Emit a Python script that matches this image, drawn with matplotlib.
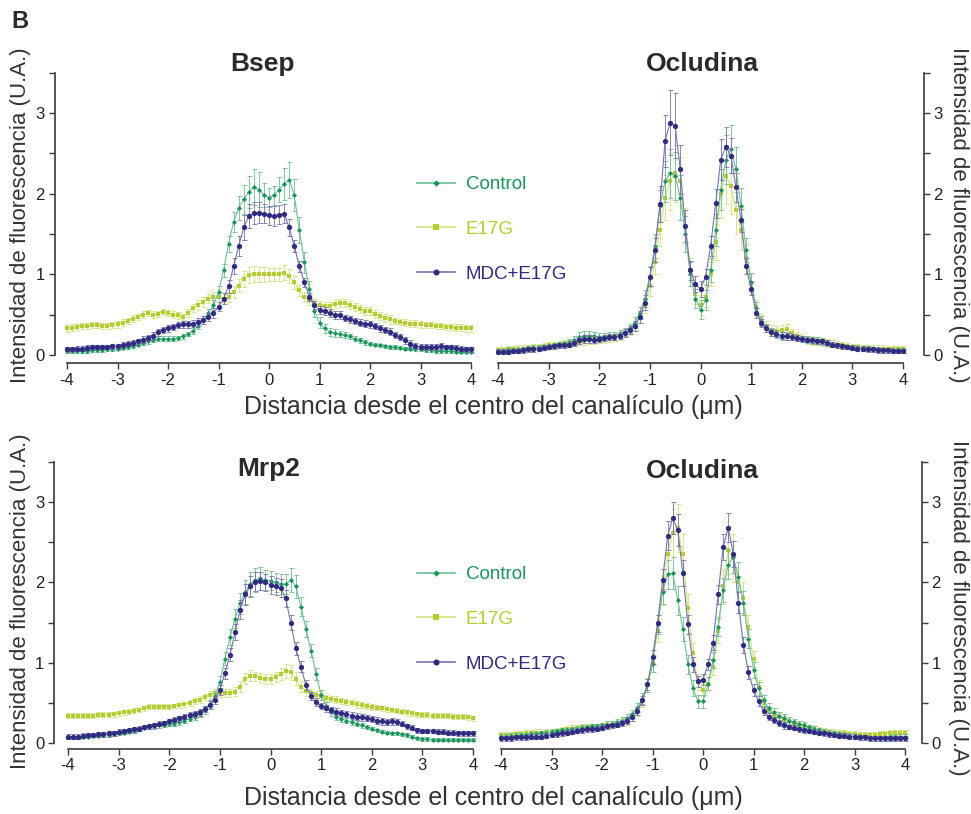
import numpy as np
import matplotlib
matplotlib.use("Agg")
import matplotlib.pyplot as plt
from matplotlib.lines import Line2D

plt.rcParams['font.family'] = ['Liberation Sans', 'DejaVu Sans']
plt.rcParams['axes.unicode_minus'] = False

# distance from canaliculus centre (um), step 0.1
dist = np.linspace(-4, 4, 81)

series_names = ["Control", "E17G", "MDC+E17G"]
colors = ["#17955b", "#b3ce2e", "#2f2b80"]
light = ["#6cbf93", "#d2e37f", "#7672b0"]
markers = ["D", "s", "o"]
msizes = [2.6, 3.4, 3.8]

# ---- Bsep ----
bsep_ctrl = [0.05, 0.05, 0.05, 0.05, 0.05, 0.06, 0.06, 0.06, 0.07, 0.07, 0.08,
             0.09, 0.10, 0.11, 0.13, 0.15, 0.17, 0.19, 0.20, 0.20, 0.20,
             0.20, 0.21, 0.23, 0.26, 0.30, 0.36, 0.43, 0.52, 0.62, 0.78,
             1.05, 1.38, 1.65, 1.82, 1.93, 2.02, 2.08, 2.05, 1.98, 1.95,
             1.98, 2.05, 2.12, 2.17, 1.98, 1.55, 1.15, 0.82, 0.55, 0.40,
             0.33, 0.29, 0.27, 0.26, 0.25, 0.23, 0.20, 0.18, 0.16, 0.14,
             0.13, 0.12, 0.11, 0.10, 0.10, 0.09, 0.08, 0.08, 0.07, 0.07,
             0.06, 0.06, 0.05, 0.05, 0.05, 0.05, 0.04, 0.04, 0.04, 0.04]
bsep_ctrl_err = [0.02, 0.02, 0.02, 0.02, 0.02, 0.02, 0.02, 0.02, 0.02, 0.02, 0.02,
                 0.02, 0.02, 0.02, 0.02, 0.03, 0.03, 0.03, 0.03, 0.03, 0.03,
                 0.03, 0.03, 0.03, 0.03, 0.04, 0.04, 0.05, 0.05, 0.06, 0.07,
                 0.08, 0.10, 0.12, 0.15, 0.18, 0.20, 0.22, 0.22, 0.15, 0.12,
                 0.12, 0.15, 0.20, 0.22, 0.20, 0.16, 0.13, 0.10, 0.08, 0.07,
                 0.06, 0.05, 0.05, 0.04, 0.04, 0.03, 0.03, 0.03, 0.03, 0.02,
                 0.02, 0.02, 0.02, 0.02, 0.02, 0.02, 0.02, 0.02, 0.02, 0.02,
                 0.02, 0.02, 0.02, 0.02, 0.02, 0.02, 0.02, 0.02, 0.02, 0.02]
bsep_e17g = [0.33, 0.34, 0.35, 0.36, 0.36, 0.37, 0.37, 0.36, 0.36, 0.37, 0.38,
             0.40, 0.42, 0.45, 0.47, 0.50, 0.52, 0.50, 0.51, 0.53, 0.52,
             0.50, 0.49, 0.47, 0.52, 0.58, 0.62, 0.66, 0.70, 0.72, 0.72,
             0.70, 0.72, 0.78, 0.86, 0.94, 0.99, 1.00, 1.00, 1.00, 1.00,
             1.00, 1.00, 1.02, 0.98, 0.90, 0.80, 0.72, 0.68, 0.64, 0.62,
             0.61, 0.61, 0.63, 0.65, 0.64, 0.62, 0.59, 0.57, 0.55, 0.54,
             0.51, 0.48, 0.46, 0.44, 0.42, 0.41, 0.40, 0.39, 0.39, 0.38,
             0.37, 0.37, 0.36, 0.36, 0.35, 0.35, 0.34, 0.34, 0.33, 0.33]
bsep_e17g_err = [0.04, 0.04, 0.04, 0.04, 0.04, 0.04, 0.04, 0.04, 0.04, 0.04, 0.04,
                 0.04, 0.04, 0.04, 0.04, 0.04, 0.04, 0.04, 0.04, 0.04, 0.04,
                 0.04, 0.04, 0.04, 0.05, 0.05, 0.06, 0.06, 0.06, 0.06, 0.06,
                 0.06, 0.06, 0.07, 0.08, 0.10, 0.10, 0.10, 0.09, 0.09, 0.08,
                 0.08, 0.08, 0.09, 0.09, 0.08, 0.07, 0.06, 0.06, 0.05, 0.05,
                 0.05, 0.05, 0.05, 0.05, 0.05, 0.05, 0.05, 0.05, 0.05, 0.05,
                 0.05, 0.05, 0.05, 0.05, 0.04, 0.04, 0.04, 0.04, 0.04, 0.04,
                 0.04, 0.04, 0.04, 0.04, 0.04, 0.04, 0.04, 0.04, 0.04, 0.04]
bsep_mdc = [0.07, 0.07, 0.08, 0.08, 0.09, 0.10, 0.10, 0.10, 0.10, 0.11, 0.11,
            0.13, 0.14, 0.15, 0.17, 0.19, 0.21, 0.24, 0.28, 0.31, 0.33,
            0.35, 0.37, 0.38, 0.38, 0.39, 0.41, 0.43, 0.47, 0.52, 0.60,
            0.70, 0.85, 1.10, 1.35, 1.58, 1.72, 1.76, 1.76, 1.75, 1.73,
            1.72, 1.74, 1.75, 1.58, 1.35, 1.10, 0.90, 0.72, 0.62, 0.56,
            0.54, 0.52, 0.50, 0.49, 0.46, 0.44, 0.42, 0.40, 0.39, 0.38,
            0.36, 0.33, 0.31, 0.29, 0.25, 0.22, 0.18, 0.14, 0.11, 0.10,
            0.10, 0.10, 0.10, 0.11, 0.10, 0.10, 0.09, 0.08, 0.07, 0.07]
bsep_mdc_err = [0.03, 0.03, 0.03, 0.03, 0.03, 0.03, 0.03, 0.03, 0.03, 0.03, 0.03,
                0.03, 0.03, 0.03, 0.03, 0.04, 0.04, 0.04, 0.04, 0.04, 0.04,
                0.04, 0.04, 0.04, 0.04, 0.04, 0.05, 0.05, 0.05, 0.06, 0.06,
                0.07, 0.08, 0.10, 0.12, 0.15, 0.15, 0.14, 0.13, 0.12, 0.12,
                0.12, 0.12, 0.12, 0.10, 0.08, 0.07, 0.06, 0.05, 0.05, 0.05,
                0.05, 0.05, 0.05, 0.05, 0.04, 0.04, 0.04, 0.04, 0.04, 0.04,
                0.04, 0.04, 0.04, 0.04, 0.04, 0.04, 0.04, 0.04, 0.04, 0.04,
                0.04, 0.04, 0.04, 0.04, 0.03, 0.03, 0.03, 0.03, 0.03, 0.03]

# ---- Ocludina (top) ----
ocl1_ctrl = [0.05, 0.05, 0.06, 0.06, 0.06, 0.07, 0.08, 0.09, 0.09, 0.10, 0.11,
             0.12, 0.13, 0.14, 0.16, 0.18, 0.22, 0.24, 0.24, 0.23, 0.22,
             0.22, 0.23, 0.24, 0.26, 0.29, 0.33, 0.40, 0.52, 0.70, 0.98,
             1.35, 1.85, 2.15, 2.25, 2.22, 1.95, 1.50, 1.00, 0.70, 0.56,
             0.68, 1.05, 1.55, 2.05, 2.42, 2.55, 2.30, 1.85, 1.30, 0.90,
             0.58, 0.42, 0.33, 0.28, 0.26, 0.24, 0.23, 0.22, 0.21, 0.20,
             0.19, 0.18, 0.18, 0.17, 0.15, 0.13, 0.12, 0.11, 0.10, 0.09,
             0.09, 0.08, 0.08, 0.07, 0.07, 0.06, 0.06, 0.06, 0.06, 0.06]
ocl1_ctrl_err = [0.03, 0.03, 0.03, 0.03, 0.03, 0.03, 0.03, 0.03, 0.03, 0.03, 0.03,
                 0.03, 0.03, 0.03, 0.04, 0.05, 0.06, 0.06, 0.06, 0.05, 0.05,
                 0.05, 0.05, 0.05, 0.05, 0.05, 0.06, 0.07, 0.08, 0.10, 0.12,
                 0.15, 0.20, 0.25, 0.30, 0.30, 0.28, 0.22, 0.15, 0.12, 0.12,
                 0.12, 0.15, 0.20, 0.25, 0.30, 0.30, 0.28, 0.22, 0.15, 0.12,
                 0.08, 0.06, 0.05, 0.05, 0.05, 0.05, 0.05, 0.04, 0.04, 0.04,
                 0.04, 0.04, 0.04, 0.04, 0.04, 0.03, 0.03, 0.03, 0.03, 0.03,
                 0.03, 0.03, 0.03, 0.03, 0.03, 0.03, 0.03, 0.03, 0.03, 0.03]
ocl1_e17g = [0.06, 0.06, 0.07, 0.07, 0.08, 0.08, 0.09, 0.10, 0.10, 0.11, 0.12,
             0.12, 0.13, 0.14, 0.14, 0.15, 0.16, 0.17, 0.18, 0.18, 0.19,
             0.20, 0.21, 0.22, 0.24, 0.27, 0.31, 0.38, 0.48, 0.62, 0.85,
             1.15, 1.55, 1.95, 2.15, 2.25, 2.15, 1.60, 1.05, 0.75, 0.62,
             0.72, 1.00, 1.40, 2.00, 2.22, 2.10, 1.80, 1.55, 1.20, 0.88,
             0.60, 0.44, 0.36, 0.31, 0.30, 0.31, 0.32, 0.27, 0.23, 0.21,
             0.19, 0.18, 0.17, 0.16, 0.15, 0.14, 0.13, 0.12, 0.11, 0.10,
             0.10, 0.09, 0.09, 0.08, 0.08, 0.08, 0.07, 0.07, 0.07, 0.07]
ocl1_e17g_err = [0.04, 0.04, 0.04, 0.04, 0.04, 0.04, 0.04, 0.04, 0.04, 0.04, 0.04,
                 0.04, 0.04, 0.04, 0.04, 0.04, 0.04, 0.04, 0.04, 0.04, 0.04,
                 0.05, 0.05, 0.05, 0.05, 0.05, 0.06, 0.07, 0.08, 0.10, 0.12,
                 0.15, 0.20, 0.28, 0.35, 0.35, 0.30, 0.22, 0.15, 0.12, 0.12,
                 0.12, 0.15, 0.22, 0.30, 0.35, 0.35, 0.30, 0.25, 0.18, 0.12,
                 0.08, 0.07, 0.06, 0.06, 0.06, 0.06, 0.06, 0.05, 0.05, 0.05,
                 0.05, 0.05, 0.05, 0.05, 0.05, 0.04, 0.04, 0.04, 0.04, 0.04,
                 0.04, 0.04, 0.04, 0.04, 0.04, 0.04, 0.04, 0.04, 0.04, 0.04]
ocl1_mdc = [0.04, 0.04, 0.04, 0.05, 0.05, 0.06, 0.07, 0.07, 0.08, 0.09, 0.10,
            0.11, 0.12, 0.12, 0.13, 0.15, 0.18, 0.20, 0.20, 0.19, 0.20,
            0.21, 0.22, 0.22, 0.24, 0.27, 0.31, 0.36, 0.47, 0.65, 0.97,
            1.30, 1.87, 2.65, 2.88, 2.84, 2.30, 1.60, 1.05, 0.88, 0.82,
            0.97, 1.35, 1.88, 2.42, 2.58, 2.47, 2.08, 1.67, 1.10, 0.82,
            0.52, 0.40, 0.33, 0.28, 0.26, 0.24, 0.23, 0.22, 0.21, 0.20,
            0.19, 0.18, 0.17, 0.17, 0.15, 0.13, 0.12, 0.11, 0.10, 0.09,
            0.08, 0.08, 0.07, 0.07, 0.06, 0.06, 0.06, 0.05, 0.05, 0.05]
ocl1_mdc_err = [0.03, 0.03, 0.03, 0.03, 0.03, 0.03, 0.03, 0.03, 0.03, 0.03, 0.03,
                0.03, 0.03, 0.03, 0.03, 0.04, 0.04, 0.05, 0.05, 0.04, 0.04,
                0.04, 0.04, 0.04, 0.04, 0.05, 0.05, 0.06, 0.07, 0.09, 0.12,
                0.15, 0.22, 0.32, 0.40, 0.40, 0.30, 0.20, 0.12, 0.10, 0.10,
                0.10, 0.12, 0.18, 0.25, 0.25, 0.22, 0.18, 0.14, 0.10, 0.08,
                0.06, 0.05, 0.04, 0.04, 0.04, 0.04, 0.04, 0.04, 0.04, 0.04,
                0.03, 0.03, 0.03, 0.03, 0.03, 0.03, 0.03, 0.03, 0.03, 0.03,
                0.03, 0.03, 0.03, 0.03, 0.03, 0.03, 0.03, 0.03, 0.03, 0.03]

# ---- Mrp2 ----
mrp2_ctrl = [0.07, 0.07, 0.07, 0.08, 0.08, 0.09, 0.09, 0.10, 0.10, 0.11, 0.12,
             0.13, 0.14, 0.15, 0.17, 0.19, 0.20, 0.21, 0.22, 0.23, 0.24,
             0.24, 0.26, 0.28, 0.30, 0.33, 0.36, 0.41, 0.48, 0.58, 0.76,
             1.05, 1.32, 1.55, 1.74, 1.88, 1.98, 2.03, 2.05, 2.03, 2.02,
             2.00, 1.98, 1.98, 2.03, 1.95, 1.70, 1.42, 1.15, 0.86, 0.60,
             0.46, 0.39, 0.33, 0.30, 0.28, 0.26, 0.24, 0.22, 0.20, 0.18,
             0.16, 0.14, 0.13, 0.12, 0.12, 0.11, 0.10, 0.08, 0.06, 0.05,
             0.05, 0.04, 0.04, 0.04, 0.04, 0.04, 0.04, 0.04, 0.04, 0.04]
mrp2_ctrl_err = [0.02, 0.02, 0.02, 0.02, 0.02, 0.02, 0.02, 0.02, 0.02, 0.02, 0.02,
                 0.02, 0.02, 0.02, 0.02, 0.02, 0.03, 0.03, 0.03, 0.03, 0.03,
                 0.03, 0.03, 0.03, 0.03, 0.04, 0.04, 0.05, 0.05, 0.06, 0.07,
                 0.08, 0.10, 0.12, 0.13, 0.15, 0.15, 0.15, 0.14, 0.13, 0.12,
                 0.12, 0.12, 0.13, 0.15, 0.14, 0.12, 0.10, 0.08, 0.07, 0.06,
                 0.05, 0.05, 0.04, 0.04, 0.03, 0.03, 0.03, 0.03, 0.02, 0.02,
                 0.02, 0.02, 0.02, 0.02, 0.02, 0.02, 0.02, 0.02, 0.02, 0.02,
                 0.02, 0.02, 0.02, 0.02, 0.02, 0.02, 0.02, 0.02, 0.02, 0.02]
mrp2_e17g = [0.34, 0.34, 0.34, 0.34, 0.34, 0.34, 0.35, 0.35, 0.35, 0.36, 0.37,
             0.38, 0.39, 0.40, 0.41, 0.43, 0.45, 0.45, 0.45, 0.45, 0.45,
             0.46, 0.47, 0.48, 0.50, 0.52, 0.54, 0.57, 0.60, 0.62, 0.62,
             0.62, 0.62, 0.64, 0.70, 0.80, 0.84, 0.83, 0.81, 0.80, 0.80,
             0.82, 0.86, 0.90, 0.88, 0.80, 0.70, 0.65, 0.62, 0.60, 0.58,
             0.56, 0.55, 0.54, 0.52, 0.51, 0.50, 0.48, 0.47, 0.46, 0.45,
             0.44, 0.43, 0.42, 0.41, 0.40, 0.39, 0.38, 0.37, 0.36, 0.35,
             0.35, 0.34, 0.34, 0.34, 0.34, 0.33, 0.33, 0.33, 0.32, 0.31]
mrp2_e17g_err = [0.03, 0.03, 0.03, 0.03, 0.03, 0.03, 0.03, 0.03, 0.03, 0.03, 0.03,
                 0.03, 0.03, 0.03, 0.03, 0.03, 0.03, 0.03, 0.03, 0.03, 0.03,
                 0.03, 0.03, 0.03, 0.04, 0.04, 0.04, 0.04, 0.05, 0.05, 0.05,
                 0.05, 0.05, 0.06, 0.07, 0.07, 0.07, 0.06, 0.06, 0.06, 0.06,
                 0.06, 0.07, 0.09, 0.09, 0.08, 0.07, 0.06, 0.05, 0.05, 0.04,
                 0.04, 0.04, 0.04, 0.04, 0.04, 0.04, 0.04, 0.04, 0.04, 0.04,
                 0.03, 0.03, 0.03, 0.03, 0.03, 0.03, 0.03, 0.03, 0.03, 0.03,
                 0.03, 0.03, 0.03, 0.03, 0.03, 0.03, 0.03, 0.03, 0.03, 0.03]
mrp2_mdc = [0.08, 0.08, 0.08, 0.09, 0.10, 0.10, 0.11, 0.11, 0.12, 0.12, 0.14,
            0.15, 0.16, 0.17, 0.18, 0.20, 0.21, 0.22, 0.24, 0.25, 0.27,
            0.29, 0.31, 0.33, 0.35, 0.36, 0.38, 0.42, 0.47, 0.54, 0.66,
            0.87, 1.10, 1.38, 1.66, 1.85, 1.95, 2.01, 2.02, 2.00, 1.97,
            1.95, 1.93, 1.80, 1.50, 1.18, 0.95, 0.72, 0.58, 0.51, 0.46,
            0.43, 0.41, 0.39, 0.37, 0.36, 0.34, 0.33, 0.32, 0.31, 0.30,
            0.28, 0.27, 0.26, 0.27, 0.26, 0.24, 0.21, 0.19, 0.16, 0.15,
            0.15, 0.15, 0.14, 0.14, 0.13, 0.13, 0.12, 0.12, 0.12, 0.12]
mrp2_mdc_err = [0.03, 0.03, 0.03, 0.03, 0.03, 0.03, 0.03, 0.03, 0.03, 0.03, 0.03,
                0.03, 0.03, 0.03, 0.03, 0.03, 0.03, 0.03, 0.03, 0.03, 0.03,
                0.03, 0.03, 0.03, 0.03, 0.04, 0.04, 0.04, 0.05, 0.05, 0.06,
                0.07, 0.08, 0.10, 0.12, 0.13, 0.13, 0.12, 0.11, 0.11, 0.11,
                0.11, 0.11, 0.10, 0.09, 0.08, 0.07, 0.06, 0.05, 0.05, 0.04,
                0.04, 0.04, 0.04, 0.04, 0.04, 0.04, 0.04, 0.04, 0.04, 0.04,
                0.04, 0.04, 0.04, 0.04, 0.04, 0.03, 0.03, 0.03, 0.03, 0.03,
                0.03, 0.03, 0.03, 0.03, 0.03, 0.03, 0.03, 0.03, 0.03, 0.03]

# ---- Ocludina (bottom) ----
ocl2_ctrl = [0.08, 0.08, 0.09, 0.09, 0.10, 0.10, 0.11, 0.11, 0.12, 0.13, 0.14,
             0.15, 0.16, 0.16, 0.17, 0.18, 0.19, 0.20, 0.21, 0.21, 0.22,
             0.23, 0.24, 0.26, 0.28, 0.31, 0.36, 0.44, 0.55, 0.72, 0.98,
             1.48, 1.88, 2.10, 2.12, 1.78, 1.42, 0.98, 0.68, 0.52, 0.52,
             0.74, 1.03, 1.45, 1.91, 2.22, 2.32, 2.07, 1.74, 1.30, 0.91,
             0.68, 0.53, 0.44, 0.38, 0.34, 0.31, 0.28, 0.26, 0.24, 0.22,
             0.20, 0.18, 0.16, 0.14, 0.13, 0.12, 0.11, 0.10, 0.09, 0.08,
             0.07, 0.07, 0.06, 0.06, 0.06, 0.06, 0.07, 0.07, 0.08, 0.08]
ocl2_ctrl_err = [0.03, 0.03, 0.03, 0.03, 0.03, 0.03, 0.03, 0.03, 0.03, 0.03, 0.03,
                 0.03, 0.03, 0.03, 0.03, 0.03, 0.03, 0.03, 0.03, 0.03, 0.03,
                 0.04, 0.04, 0.04, 0.04, 0.05, 0.05, 0.06, 0.07, 0.08, 0.10,
                 0.12, 0.15, 0.18, 0.20, 0.18, 0.15, 0.12, 0.10, 0.08, 0.08,
                 0.08, 0.10, 0.12, 0.15, 0.18, 0.20, 0.18, 0.15, 0.12, 0.10,
                 0.08, 0.07, 0.06, 0.05, 0.05, 0.05, 0.04, 0.04, 0.04, 0.04,
                 0.03, 0.03, 0.03, 0.03, 0.03, 0.03, 0.03, 0.03, 0.03, 0.03,
                 0.03, 0.03, 0.03, 0.03, 0.03, 0.03, 0.03, 0.03, 0.03, 0.03]
ocl2_e17g = [0.10, 0.10, 0.10, 0.11, 0.11, 0.12, 0.12, 0.13, 0.13, 0.13, 0.14,
             0.15, 0.16, 0.17, 0.18, 0.19, 0.20, 0.20, 0.20, 0.20, 0.21,
             0.22, 0.23, 0.24, 0.26, 0.28, 0.32, 0.40, 0.52, 0.72, 1.00,
             1.40, 1.90, 2.35, 2.62, 2.68, 2.35, 1.68, 1.12, 0.76, 0.66,
             0.74, 0.95, 1.40, 1.95, 2.40, 2.30, 2.00, 1.80, 1.45, 1.05,
             0.70, 0.50, 0.40, 0.35, 0.32, 0.29, 0.27, 0.25, 0.23, 0.21,
             0.19, 0.17, 0.16, 0.15, 0.14, 0.13, 0.12, 0.12, 0.11, 0.11,
             0.10, 0.10, 0.10, 0.10, 0.11, 0.11, 0.12, 0.12, 0.12, 0.12]
ocl2_e17g_err = [0.04, 0.04, 0.04, 0.04, 0.04, 0.04, 0.04, 0.04, 0.04, 0.04, 0.04,
                 0.04, 0.04, 0.04, 0.04, 0.04, 0.04, 0.04, 0.04, 0.04, 0.04,
                 0.04, 0.04, 0.04, 0.05, 0.05, 0.05, 0.06, 0.07, 0.09, 0.11,
                 0.14, 0.18, 0.24, 0.30, 0.30, 0.25, 0.18, 0.12, 0.10, 0.08,
                 0.08, 0.10, 0.15, 0.22, 0.30, 0.30, 0.25, 0.20, 0.15, 0.10,
                 0.08, 0.06, 0.05, 0.05, 0.05, 0.05, 0.05, 0.04, 0.04, 0.04,
                 0.04, 0.04, 0.04, 0.04, 0.04, 0.04, 0.04, 0.04, 0.04, 0.04,
                 0.04, 0.04, 0.04, 0.04, 0.04, 0.04, 0.04, 0.04, 0.04, 0.04]
ocl2_mdc = [0.06, 0.06, 0.06, 0.07, 0.07, 0.07, 0.08, 0.08, 0.08, 0.09, 0.10,
            0.11, 0.12, 0.13, 0.14, 0.15, 0.16, 0.17, 0.17, 0.18, 0.19,
            0.21, 0.22, 0.23, 0.25, 0.28, 0.32, 0.40, 0.53, 0.73, 1.07,
            1.49, 2.03, 2.58, 2.80, 2.65, 2.12, 1.48, 0.98, 0.77, 0.79,
            0.98, 1.25, 1.85, 2.44, 2.68, 2.35, 1.75, 1.22, 0.88, 0.66,
            0.52, 0.40, 0.33, 0.29, 0.25, 0.22, 0.20, 0.19, 0.17, 0.16,
            0.15, 0.14, 0.13, 0.12, 0.11, 0.10, 0.09, 0.09, 0.08, 0.08,
            0.07, 0.07, 0.06, 0.06, 0.06, 0.06, 0.06, 0.06, 0.06, 0.06]
ocl2_mdc_err = [0.03, 0.03, 0.03, 0.03, 0.03, 0.03, 0.03, 0.03, 0.03, 0.03, 0.03,
                0.03, 0.03, 0.03, 0.03, 0.03, 0.03, 0.03, 0.03, 0.03, 0.03,
                0.03, 0.03, 0.03, 0.04, 0.04, 0.05, 0.05, 0.06, 0.07, 0.09,
                0.11, 0.14, 0.18, 0.20, 0.20, 0.16, 0.12, 0.09, 0.07, 0.07,
                0.07, 0.09, 0.12, 0.16, 0.18, 0.16, 0.13, 0.10, 0.08, 0.07,
                0.06, 0.05, 0.04, 0.04, 0.04, 0.04, 0.03, 0.03, 0.03, 0.03,
                0.03, 0.03, 0.03, 0.03, 0.03, 0.03, 0.03, 0.03, 0.03, 0.03,
                0.03, 0.03, 0.03, 0.03, 0.03, 0.03, 0.03, 0.03, 0.03, 0.03]

xticks = [-4, -3, -2, -1, 0, 1, 2, 3, 4]
yticks = [0, 1, 2, 3]
ylabel = "Intensidad de fluorescencia (U.A.)"
xlabel = "Distancia desde el centro del canalículo (μm)"
axis_col = "#3a3a3a"


def draw_panel(ax, vals, errs):
    for k, i in enumerate([1, 0, 2]):
        z = 2 + 3 * k
        ax.errorbar(dist, vals[i], yerr=errs[i], fmt='none', ecolor=light[i],
                    elinewidth=0.6, capsize=1.8, capthick=0.6, zorder=z, clip_on=False)
        ax.plot(dist, vals[i], '-', color=light[i], lw=0.8, zorder=z + 1, clip_on=False)
        ax.plot(dist, vals[i], markers[i], ls='none', color=colors[i], mec=colors[i],
                ms=msizes[i], mew=0, zorder=z + 2, clip_on=False)


def style_axes(ax, side, xoff, yoff):
    ax.set_xlim(-4, 4)
    ax.set_ylim(0, 3.5)
    ax.set_xticks(xticks)
    ax.set_xticklabels([str(t) for t in xticks])
    ax.set_yticks(yticks)
    ax.set_yticks([0.5, 1.5, 2.5, 3.5], minor=True)
    ax.spines['top'].set_visible(False)
    other = 'right' if side == 'left' else 'left'
    ax.spines[other].set_visible(False)
    ax.spines[side].set_position(('outward', yoff))
    ax.spines['bottom'].set_position(('outward', xoff))
    for s in [side, 'bottom']:
        ax.spines[s].set_color(axis_col)
        ax.spines[s].set_linewidth(1.2)
    if side == 'right':
        ax.yaxis.tick_right()
    ax.tick_params(axis='both', which='both', direction='out', length=4,
                   width=1, color=axis_col, labelsize=12, labelcolor='#222222', pad=3)
    ax.tick_params(axis='x', which='minor', bottom=False)
    ax.patch.set_visible(False)


fig = plt.figure(figsize=(9.71, 8.14), dpi=100)
W, H = 971, 814


def add_ax(x0, x1, y0, y3p5):
    return fig.add_axes([x0 / W, 1 - y0 / H, (x1 - x0) / W, (y0 - y3p5) / H])


ax1 = add_ax(67, 471, 355, 72.5)
ax2 = add_ax(498, 903, 355, 72.5)
ax3 = add_ax(68, 473, 743, 462)
ax4 = add_ax(501, 905, 743, 462)

draw_panel(ax1, [bsep_ctrl, bsep_e17g, bsep_mdc], [bsep_ctrl_err, bsep_e17g_err, bsep_mdc_err])
draw_panel(ax2, [ocl1_ctrl, ocl1_e17g, ocl1_mdc], [ocl1_ctrl_err, ocl1_e17g_err, ocl1_mdc_err])
draw_panel(ax3, [mrp2_ctrl, mrp2_e17g, mrp2_mdc], [mrp2_ctrl_err, mrp2_e17g_err, mrp2_mdc_err])
draw_panel(ax4, [ocl2_ctrl, ocl2_e17g, ocl2_mdc], [ocl2_ctrl_err, ocl2_e17g_err, ocl2_mdc_err])

style_axes(ax1, 'left', 6, 9)
style_axes(ax2, 'right', 6, 15)
style_axes(ax3, 'left', 4, 10)
style_axes(ax4, 'right', 4, 12)

txt_col = "#2a2a2a"
fig.text(20 / W, 1 - 22 / H, "B", fontsize=17, fontweight='bold', color=txt_col, ha='center', va='center')
for (tx, ty, t) in [(262, 64, "Bsep"), (702, 64, "Ocludina"), (269, 469, "Mrp2"), (702, 471, "Ocludina")]:
    fig.text(tx / W, 1 - ty / H, t, fontsize=19, fontweight='bold', color=txt_col, ha='center', va='center')

for yy in [407, 798]:
    fig.text(493 / W, 1 - yy / H, xlabel, fontsize=18, color='#333333', ha='center', va='center')
for (lx, ly, rot) in [(21, 215, 90), (21, 601, 90), (958, 215, 270), (958, 608, 270)]:
    fig.text(lx / W, 1 - ly / H, ylabel, fontsize=16, color='#333333', rotation=rot,
             ha='center', va='center', rotation_mode='anchor')

handles = [Line2D([], [], color=light[i], lw=1.2, marker=markers[i], mfc=colors[i],
                  mec=colors[i], mew=0, ms=msizes[i] + 0.6) for i in range(3)]
for top in [176, 566]:
    fig.legend(handles, series_names, loc='upper left', bbox_to_anchor=(417 / W, 1 - top / H),
               frameon=False, fontsize=13.5, labelcolor=colors, handlelength=2.0,
               handletextpad=0.6, labelspacing=1.48, borderpad=0, borderaxespad=0, numpoints=1)

fig.savefig("out.png", dpi=100)
